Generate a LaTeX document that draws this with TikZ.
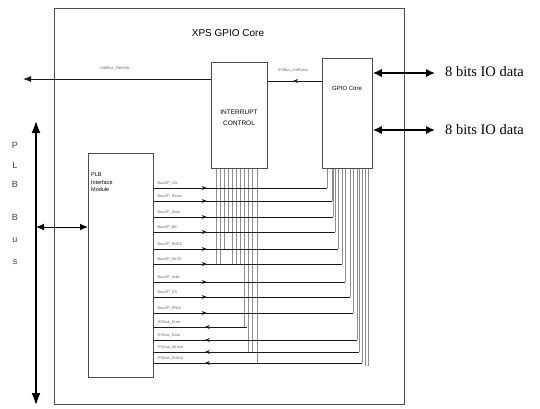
\documentclass[tikz,border=0pt]{standalone}
\usepackage{fontspec}
\setmainfont{Liberation Serif}
\setsansfont{Liberation Sans}
\usetikzlibrary{arrows.meta, positioning, calc, decorations.markings}

\begin{document}
\begin{tikzpicture}[x=1pt, y=-1pt, font=\sffamily,
  blk/.style={draw=black!70, line width=0.8pt, inner sep=0pt, anchor=north west},
  sig/.style={draw=black!90, line width=0.8pt},
  tap/.style={draw=black!45, line width=0.45pt},
  sigtxt/.style={font=\sffamily\fontsize{3.8}{4}\selectfont, text=black!60, anchor=south west, inner sep=0.6pt},
  arrat/.style={postaction={decorate}, decoration={markings, mark=at position #1 with {\arrow{Stealth[length=5pt,width=4pt]}}}},
  arrback/.style={postaction={decorate}, decoration={markings, mark=at position #1 with {\arrow{Stealth[length=5pt,width=4pt,reversed]}}}},
  fat/.style={line width=2.8pt, {Latex[length=9pt,width=8.5pt]}-{Latex[length=9pt,width=8.5pt]}},
  iodata/.style={font=\rmfamily\fontsize{14.5}{15}\selectfont, anchor=west, inner sep=0pt}]
  \useasboundingbox (0,0) rectangle (540,408);
  \node[blk, minimum width=350pt, minimum height=396pt] (core) at (54,8) {};
  \node[font=\sffamily\fontsize{10}{11}\selectfont] (title) at (228,33) {XPS GPIO Core};
  \node[blk, minimum width=56pt, minimum height=106pt] (intc) at (211,62) {};
  \node[font=\sffamily\fontsize{6.5}{8}\selectfont, align=center] (intctxt) at (239,118) {INTERRUPT\\[3pt]CONTROL};
  \node[blk, minimum width=50pt, minimum height=110pt] (gpio) at (322,58) {};
  \node[font=\sffamily\fontsize{6}{7}\selectfont] (gpiotxt) at (347,88) {GPIO Core};
  \node[blk, minimum width=65pt, minimum height=224pt] (plb) at (88,153) {};
  \node[font=\sffamily\fontsize{5.5}{7.5}\selectfont, align=left, anchor=north west, inner sep=0pt] (plbtxt) at (91,173) {PLB\\Interface\\Module};

  % PLB bus
  \coordinate (bustop) at (36,120);
  \coordinate (busbot) at (36,406);
  \draw[line width=2.8pt, {Latex[length=13pt,width=9pt]}-{Latex[length=13pt,width=9pt]}] (bustop) -- (busbot);
  \foreach \ch/\yy [count=\k] in {P/145, L/165, B/184, B/217, u/240, s/262}
    \node[font=\sffamily\fontsize{9}{10}\selectfont, text=black!75] (bus\k) at (15,\yy) {\ch};
  \draw[line width=1pt, {Latex[length=8pt,width=7pt]}-{Latex[length=8pt,width=7pt]}] (bustop |- 0,227) -- (plb.west |- 0,227);

  % taps below the cores
  \foreach \yy/\lbl/\ex/\dir [count=\i] in {
      188/Bus2IP\_Clk/327/r, 201/Bus2IP\_Reset/332/r, 217/Bus2IP\_Data/333/r,
      232/Bus2IP\_BE/335/r, 249/Bus2IP\_RdCE/338/r, 264/Bus2IP\_WrCE/342/r,
      282/Bus2IP\_Addr/345/r, 297/Bus2IP\_CS/350/r, 313/Bus2IP\_RNW/353/r,
      327/IP2Bus\_Error/247/l, 340/IP2Bus\_Data/357/l, 352/IP2Bus\_WrAck/359/l,
      363/IP2Bus\_RdAck/362/l}
    \coordinate (s\i) at (\ex,\yy);
  \foreach \xx/\k in {216/6, 220/6, 224/5, 228/4, 232/6, 236/6, 240/6, 244/10, 248/12, 252/12, 257/13}
    \draw[tap] (intc.south -| \xx,0) -- (\xx,0 |- s\k);
  \foreach \i in {1,...,9,11,12,13}
    \draw[tap] (gpio.south -| s\i) -- (s\i);
  \coordinate (gx1) at (365,366);
  \coordinate (gx2) at (368,366);
  \draw[tap] (gpio.south -| gx1) -- (gx1);
  \draw[tap] (gpio.south -| gx2) -- (gx2);

  % signals between PLB interface and the cores
  \foreach \yy/\lbl/\ex/\dir [count=\i] in {
      188/Bus2IP\_Clk/327/r, 201/Bus2IP\_Reset/332/r, 217/Bus2IP\_Data/333/r,
      232/Bus2IP\_BE/335/r, 249/Bus2IP\_RdCE/338/r, 264/Bus2IP\_WrCE/342/r,
      282/Bus2IP\_Addr/345/r, 297/Bus2IP\_CS/350/r, 313/Bus2IP\_RNW/353/r,
      327/IP2Bus\_Error/247/l, 340/IP2Bus\_Data/357/l, 352/IP2Bus\_WrAck/359/l,
      363/IP2Bus\_RdAck/362/l}{
    \if\dir r
      \draw[sig, arrat=53pt] (plb.east |- s\i) -- (s\i);
    \else
      \draw[sig, arrback=56pt] (plb.east |- s\i) -- (s\i);
    \fi
    \node[sigtxt] (l\i) at ($(plb.east |- s\i)+(3,-1.5)$) {\lbl};
  }

  % interrupt lines
  \coordinate (intout) at (23,79);
  \draw[sig, -{Latex[length=8pt,width=6pt]}] (intc.west |- intout) -- (intout);
  \node[font=\sffamily\fontsize{4.2}{5}\selectfont, text=black!60] (intoutlbl) at (115,68) {IntrBus\_DevIntr};
  \draw[sig, arrat=29pt] (gpio.west |- 0,81) -- (intc.east |- 0,81);
  \node[font=\sffamily\fontsize{3.8}{4}\selectfont, text=black!60] (intevlbl) at (293,71) {IP2Bus\_IntrEvent};

  % IO ports
  \coordinate (io1) at (435,73);
  \coordinate (io2) at (435,130);
  \draw[fat] (gpio.east |- io1) -- (io1);
  \draw[fat] (gpio.east |- io2) -- (io2);
  \node[iodata] (io1txt) at (445,72) {8 bits IO data};
  \node[iodata] (io2txt) at (445,130) {8 bits IO data};
\end{tikzpicture}
\end{document}
